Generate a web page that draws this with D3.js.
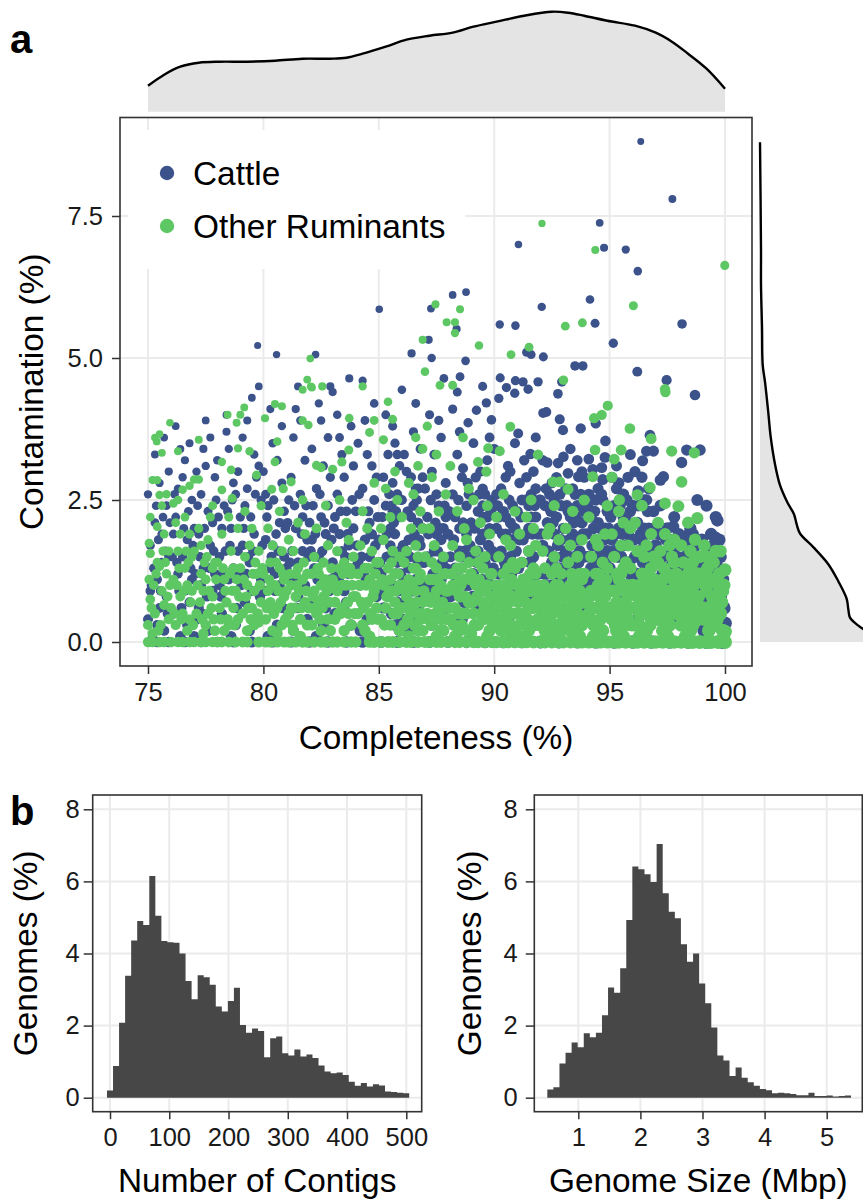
<!DOCTYPE html>
<html lang="en">
<head>
<meta charset="UTF-8">
<title>Genome quality of ruminant MAGs</title>
<script src="https://d3js.org/d3.v7.min.js"></script>
<style>
  body { margin: 0; background: #fff; }
  svg { display: block; font-family: "Liberation Sans", Arial, Helvetica, sans-serif; }
</style>
</head>
<body>
<svg id="chart" width="863" height="1200"></svg>
<script>
// ---- data ----
const seriesNames = ["Cattle", "Other Ruminants"];
const seriesColors = ["#3B528B", "#5DC863"];

// [completeness %, contamination %]
const cattle = [
  [75.0,2.6],[75.1,0.9],[75.0,0.4],[75.1,1.7],[75.3,2.1],[75.6,1.4],[75.5,0.6],[75.8,2.4],[75.4,1.1],[75.7,0.2],[75.9,3.0],[75.3,3.3],[75.6,1.9],[75.2,0.05],[75.8,0.8],[75.5,2.8],[75.9,1.5],[75.4,0.3],[75.7,3.6],
  [76.1,0.5],[76.3,1.2],[76.2,2.2],[76.5,2.9],[76.4,0.1],[76.7,1.8],[76.6,3.2],[76.8,0.7],[76.9,2.5],[76.2,3.8],[76.5,1.5],[76.7,0.3],[76.9,1.1],[76.3,2.7],[76.8,3.5],[76.1,1.9],[76.6,0.9],[76.4,3.4],
  [77.0,2.0],[77.2,0.6],[77.1,3.0],[77.4,1.3],[77.3,2.6],[77.6,0.2],[77.5,3.9],[77.7,1.7],[77.9,2.9],[77.8,0.9],[77.2,1.9],[77.4,3.4],[77.6,2.3],[77.1,0.4],[77.9,1.2],[77.5,3.1],[77.8,2.1],[77.3,1.0],[77.7,3.6],[77.0,0.1],
  [78.1,1.5],[78.0,3.2],[78.3,2.4],[78.2,0.5],[78.5,1.1],[78.4,3.7],[78.6,2.0],[78.8,0.3],[78.7,2.8],[78.9,1.6],[78.2,2.0],[78.5,3.4],[78.3,0.9],[78.8,2.6],[78.6,0.1],[78.4,4.0],[78.9,3.0],[78.1,1.0],[78.7,1.3],
  [79.0,2.2],[79.2,0.7],[79.1,3.6],[79.4,1.4],[79.3,2.7],[79.5,4.3],[79.7,0.4],[79.6,1.9],[79.8,3.1],[79.9,1.1],[79.2,2.4],[79.75,5.22],[79.8,4.5],[79.4,0.2],[79.6,3.3],[79.9,2.5],[79.1,1.7],[79.5,0.9],[79.7,2.9],[79.3,3.9],
  [80.1,1.8],[80.0,3.0],[80.3,0.6],[80.2,2.4],[80.5,1.2],[80.57,5.06],[80.4,3.5],[80.7,2.1],[80.6,0.3],[80.9,1.5],[80.8,2.8],[80.3,4.1],[80.5,0.9],[80.8,3.8],[80.1,2.6],[80.7,1.0],[80.2,0.1],[80.9,2.3],[80.4,1.7],[80.6,3.2],
  [81.0,1.3],[81.2,2.9],[81.1,0.5],[81.4,2.0],[81.3,3.6],[81.5,0.8],[81.5,4.5],[81.7,1.6],[81.6,2.6],[81.9,0.4],[81.8,3.2],[81.2,1.1],[81.4,4.1],[81.7,2.2],[81.9,1.8],[81.3,0.2],[81.6,3.9],[81.8,1.0],[81.1,2.5],[81.5,1.4],
  [82.0,2.1],[82.26,5.06],[82.9,4.5],[82.2,0.7],[82.1,3.4],[82.4,1.5],[82.3,2.7],[82.6,0.3],[82.5,3.9],[82.7,1.9],[82.8,2.4],[82.4,4.2],[82.9,1.1],[82.6,3.1],[82.2,1.3],[82.7,0.6],[82.5,2.2],[82.8,3.6],[82.1,1.8],[82.3,0.1],[82.9,2.9],
  [83.0,1.4],[83.2,2.6],[83.1,0.5],[83.4,3.3],[83.3,1.9],[83.72,4.64],[83.5,0.9],[83.6,2.3],[83.8,3.8],[83.7,1.2],[83.9,2.0],[83.2,4.0],[83.5,2.9],[83.8,0.3],[83.4,1.6],[83.9,3.1],[83.1,2.2],[83.6,0.7],[83.3,3.6],[83.7,1.7],[83.0,4.4],
  [84.0,2.3],[84.2,1.0],[84.1,3.5],[84.4,1.8],[84.3,2.7],[84.5,0.4],[84.7,3.1],[84.6,2.1],[84.8,4.2],[84.9,1.3],[84.2,0.2],[84.4,3.9],[84.6,1.5],[84.8,2.5],[84.5,3.3],[84.9,0.8],[84.7,1.9],[84.3,4.6],[84.1,1.4],[84.9,2.9],
  [85.02,5.86],[85.1,1.2],[85.3,2.4],[85.2,0.6],[85.4,3.3],[85.5,1.7],[85.6,2.8],[85.7,0.3],[85.6,3.8],[85.8,1.4],[85.9,2.2],[85.7,1.9],[85.8,2.6],[85.9,3.1],[85.6,1.0],[85.8,0.7],[85.5,2.0],[85.9,0.2],[85.7,3.5],[85.4,1.0],[85.3,4.0],[85.9,1.6],[85.6,2.3],[85.8,3.3],[85.2,2.9],[85.0,1.8],
  [86.0,2.5],[86.1,1.1],[86.2,3.0],[86.0,0.4],[86.3,1.8],[86.4,2.2],[86.42,5.08],[86.0,4.44],[86.5,0.9],[86.6,2.7],[86.7,1.4],[86.8,3.4],[86.9,2.0],[86.3,0.2],[86.5,3.7],[86.7,0.6],[86.9,1.0],[86.2,1.6],[86.4,2.9],[86.6,4.2],[86.8,1.7],[86.1,3.3],[86.5,2.4],[86.9,2.9],[86.3,1.3],[86.7,2.1],
  [87.16,5.32],[87.26,5.87],[87.29,5.0],[87.1,2.2],[87.2,1.0],[87.3,3.0],[87.4,1.6],[87.5,2.6],[87.6,0.5],[87.7,3.6],[87.8,2.0],[87.82,4.64],[87.9,1.3],[87.2,4.0],[87.5,1.9],[87.7,1.1],[87.9,2.8],[87.3,0.3],[87.6,2.4],[87.8,0.8],[87.4,3.3],[87.1,1.5],[87.9,2.2],[87.6,3.9],[87.0,2.7],
  [88.2,6.11],[88.78,6.16],[88.37,5.51],[88.76,4.95],[88.52,4.67],[88.0,1.9],[88.1,0.8],[88.2,2.6],[88.3,1.3],[88.4,3.3],[88.5,2.0],[88.6,0.4],[88.65,3.06],[88.7,1.6],[88.8,2.4],[88.87,3.86],[88.9,1.0],[88.2,4.1],[88.4,1.1],[88.6,2.9],[88.8,1.9],[88.3,2.2],[88.5,3.7],[88.9,2.6],[88.1,1.5],[88.7,0.7],[88.4,4.4],
  [89.0,2.1],[89.1,1.2],[89.23,4.08],[89.2,2.9],[89.3,0.6],[89.4,1.8],[89.5,4.5],[89.5,2.4],[89.66,4.21],[89.6,1.4],[89.7,3.2],[89.88,3.91],[89.8,2.0],[89.9,0.9],[89.1,3.5],[89.3,1.6],[89.5,2.7],[89.7,1.1],[89.9,2.5],[89.2,0.3],[89.4,3.0],[89.6,1.9],[89.8,3.6],[89.0,1.5],[89.3,2.3],[89.9,1.6],[89.7,2.2],
  [90.2,4.29],[90.24,5.59],[90.26,4.65],[90.53,4.48],[90.89,4.38],[90.92,5.57],[90.92,4.6],[90.1,2.0],[90.2,1.2],[90.3,2.7],[90.4,0.7],[90.5,1.9],[90.6,3.1],[90.7,1.5],[90.8,2.4],[90.9,1.0],[90.0,3.4],[90.3,1.6],[90.5,2.9],[90.7,2.1],[90.9,3.5],[90.4,2.3],[90.6,0.4],[90.8,1.8],[90.1,2.6],[90.5,1.3],[90.7,3.0],[90.2,2.2],[90.9,2.0],
  [91.05,7.0],[91.25,4.58],[91.47,4.45],[91.9,4.58],[91.4,5.1],[91.6,5.06],[91.04,3.67],[91.57,3.31],[91.1,1.8],[91.2,2.5],[91.3,1.1],[91.4,2.9],[91.5,1.6],[91.6,2.2],[91.7,0.8],[91.8,2.7],[91.9,1.9],[91.0,2.3],[91.2,1.4],[91.3,3.2],[91.5,2.0],[91.7,1.5],[91.8,3.6],[91.9,1.2],[91.1,2.8],[91.4,1.9],[91.6,2.6],[91.8,2.2],[91.3,0.5],[91.7,3.0],
  [92.06,5.9],[92.13,5.02],[92.26,4.05],[92.12,4.03],[92.76,4.37],[92.84,3.92],[92.98,3.73],[92.3,3.16],[92.77,3.15],[92.1,1.7],[92.2,2.4],[92.3,1.2],[92.4,2.0],[92.5,2.8],[92.6,1.5],[92.7,2.2],[92.8,0.9],[92.9,1.8],[92.0,2.5],[92.2,1.0],[92.4,2.6],[92.5,1.4],[92.7,2.9],[92.9,2.4],[92.1,3.2],[92.3,2.1],[92.6,1.9],[92.8,1.3],[92.4,0.6],[92.6,2.5],[92.9,1.1],
  [93.5,4.86],[93.84,4.86],[92.93,4.58],[93.75,3.76],[93.0,3.26],[93.6,3.2],[93.2,2.97],[93.65,2.91],[93.1,1.6],[93.2,2.3],[93.3,1.0],[93.4,2.7],[93.5,1.8],[93.6,2.4],[93.7,1.2],[93.8,2.1],[93.9,2.9],[93.0,2.0],[93.2,1.4],[93.4,1.9],[93.5,2.6],[93.7,1.6],[93.8,0.8],[93.9,2.3],[93.1,2.7],[93.3,2.2],[93.6,1.1],[93.9,1.5],[93.3,3.4],[93.8,3.0],
  [94.57,7.38],[94.76,6.94],[94.15,6.03],[94.37,5.61],[94.4,3.85],[94.82,3.54],[94.1,3.22],[94.8,3.25],[94.27,3.04],[94.66,3.07],[94.7,2.86],[94.1,1.5],[94.2,2.2],[94.3,1.1],[94.4,2.5],[94.5,1.7],[94.6,2.0],[94.7,0.9],[94.8,1.4],[94.9,2.3],[94.0,1.9],[94.2,1.3],[94.4,1.8],[94.5,2.7],[94.6,1.2],[94.8,2.0],[94.9,1.6],[94.1,2.6],[94.3,2.0],[94.7,2.5],[94.0,0.6],
  [95.7,6.91],[95.16,5.26],[95.3,2.7],[95.1,1.8],[95.2,2.4],[95.3,1.2],[95.4,2.0],[95.5,1.5],[95.6,2.6],[95.7,1.0],[95.8,1.9],[95.9,2.3],[95.0,1.3],[95.2,1.6],[95.4,2.8],[95.5,0.7],[95.6,1.7],[95.8,2.9],[95.9,1.2],[95.1,2.9],[95.3,3.1],[95.7,2.2],[95.9,3.3],[95.45,0.3],[95.8,0.6],
  [96.35,8.81],[96.22,6.53],[96.2,4.76],[96.75,3.64],[96.6,3.36],[96.9,3.36],[96.43,3.19],[96.24,2.66],[96.1,1.5],[96.2,2.1],[96.3,1.0],[96.4,1.8],[96.5,2.5],[96.6,1.3],[96.7,2.0],[96.8,0.7],[96.9,1.6],[96.0,2.4],[96.2,0.4],[96.4,2.9],[96.5,1.1],[96.7,2.7],[96.8,1.9],[96.9,2.3],[96.1,3.0],[96.6,0.5],[96.3,1.6],
  [97.72,7.8],[97.47,4.61],[97.33,2.91],[97.2,2.85],[97.76,2.03],[97.1,1.4],[97.2,0.8],[97.3,1.9],[97.4,1.1],[97.5,1.6],[97.6,0.5],[97.7,1.3],[97.8,2.2],[97.9,0.9],[97.0,1.7],[97.2,2.4],[97.4,0.3],[97.5,2.0],[97.7,0.7],[97.9,1.5],[97.3,1.2],[97.6,1.8],[97.8,0.4],
  [98.14,5.6],[98.7,4.35],[98.34,3.38],[98.92,3.38],[98.12,3.16],[98.8,2.5],[98.4,1.88],[98.1,1.2],[98.2,0.6],[98.3,1.5],[98.4,0.9],[98.5,1.3],[98.6,0.4],[98.7,1.7],[98.8,1.0],[98.9,0.6],[98.0,1.9],[98.3,0.3],[98.5,2.0],[98.6,1.6],[98.9,1.3],[98.2,1.7],[98.7,0.7],
  [99.57,1.84],[99.67,2.14],[99.57,1.63],[99.35,1.44],[99.1,1.2],[99.2,0.7],[99.3,1.6],[99.4,0.4],[99.5,1.0],[99.6,0.6],[99.7,1.3],[99.8,0.8],[99.9,0.3],[99.0,1.8],[99.2,2.4],[99.4,1.9],[99.6,2.2],[99.8,1.5],[99.1,0.2],[100.0,0.33],[99.9,1.1],[99.3,0.9],
  [75.4,0],[75.9,0],[76.6,0],[77.3,0],[78.0,0],[78.7,0],[79.5,0],[80.4,0],[81.2,0],[82.0,0],[82.8,0],[83.6,0],[84.3,0],[85.1,0],[85.8,0],[86.5,0],[87.2,0],[88.0,0],[88.8,0],[89.6,0],[90.4,0],[91.2,0],[92.0,0],[92.8,0],[93.6,0],[94.4,0],[95.2,0],[96.0,0],[96.8,0],[97.6,0],[98.4,0],[99.2,0],[99.9,0]
];

// extra cattle points filling the dense band (estimated from the crowded region)
const cattleDense = [
  [75.25,1.3],[75.65,2.2],[75.85,0.5],[75.45,1.8],[76.25,1.4],[76.55,2.0],[76.85,1.3],[76.45,0.6],
  [77.25,1.5],[77.55,0.8],[77.85,1.6],[77.45,2.0],[78.25,1.2],[78.55,1.7],[78.85,0.6],[78.45,2.3],
  [79.25,1.2],[79.55,1.6],[79.85,0.8],[79.45,2.2],[80.25,1.3],[80.55,1.9],[80.85,0.6],[80.45,2.5],
  [81.25,1.6],[81.55,1.1],[81.85,2.4],[81.45,0.6],[82.25,1.9],[82.55,1.6],[82.85,0.9],[82.45,2.6],
  [83.25,1.1],[83.55,1.5],[83.85,2.5],[83.45,0.6],[84.25,1.5],[84.55,2.3],[84.85,1.7],[84.45,1.1],
  [85.05,1.4],[85.25,0.9],[85.35,1.5],[85.45,2.6],
  [75.15,1.0],[75.35,2.4],[75.55,0.9],[75.75,1.6],[75.95,2.1],[76.05,1.5],[76.15,2.6],[76.35,0.9],[76.75,2.3],[76.95,1.7],
  [77.05,1.2],[77.15,2.4],[77.35,0.5],[77.65,1.3],[77.95,2.5],[78.05,2.2],[78.15,0.8],[78.35,1.6],[78.65,2.5],[78.95,1.2],
  [79.05,1.0],[79.15,2.0],[79.35,1.5],[79.65,2.6],[79.95,1.7],[80.05,0.9],[80.15,2.2],[80.35,1.5],[80.65,1.6],[80.95,2.0],
  [81.05,2.1],[81.15,1.4],[81.35,2.4],[81.65,1.9],[81.95,1.5],[82.05,1.6],[82.15,2.4],[82.35,1.1],[82.65,2.1],[82.95,1.8],
  [83.05,2.0],[83.15,1.2],[83.35,2.3],[83.65,1.9],[83.95,1.3],[84.05,1.7],[84.15,2.6],[84.35,1.2],[84.65,1.9],[84.95,2.2],
  [85.15,2.2],[85.35,1.9],[85.55,2.4],[85.75,2.3],[85.95,1.2],
  [85.55,0.5],[85.6,1.5],[85.65,2.1],[85.75,1.2],[85.85,0.9],[85.95,2.5],
  [86.05,1.7],[86.15,0.7],[86.25,2.3],[86.35,1.5],[86.45,0.4],[86.55,1.9],
  [86.6,1.1],[86.65,2.5],[86.75,1.8],[86.85,0.8],[86.95,1.4],[86.7,2.7],
  [87.05,0.9],[87.15,1.9],[87.25,2.5],[87.35,1.2],[87.45,2.1],[87.5,0.7],
  [87.55,1.6],[87.65,2.0],[87.75,1.4],[87.85,2.4],[87.95,0.6],[87.7,1.8],
  [88.05,2.3],[88.15,1.2],[88.25,1.8],[88.35,0.9],[88.45,2.5],[88.5,1.6],
  [88.55,1.3],[88.65,2.1],[88.75,1.0],[88.85,2.8],[88.95,1.7],[88.6,1.5],
  [89.05,0.8],[89.15,2.0],[89.25,1.4],[89.35,2.6],[89.45,1.1],[89.5,1.9],
  [89.55,2.2],[89.65,0.9],[89.75,1.7],[89.85,2.3],[89.95,1.3],[89.6,2.6],
  [90.05,1.5],[90.15,2.4],[90.25,0.8],[90.35,1.9],[90.45,1.4],[90.5,2.2],
  [90.55,1.0],[90.65,2.5],[90.75,1.2],[90.85,2.0],[90.95,1.6],[90.6,1.8],
  [91.05,1.3],[91.15,2.2],[91.25,1.8],[91.35,2.5],[91.45,0.9],[91.5,2.4],
  [91.55,1.4],[91.65,1.9],[91.75,2.4],[91.85,1.0],[91.95,2.5],[91.6,1.1],
  [92.05,1.9],[92.15,1.2],[92.25,2.7],[92.35,1.6],[92.45,2.3],[92.5,1.0],
  [92.55,2.1],[92.65,1.2],[92.75,1.7],[92.85,2.6],[92.95,1.5],[92.6,0.9],
  [93.05,1.2],[93.15,2.4],[93.25,1.8],[93.35,1.3],[93.45,2.1],[93.5,1.5],
  [93.55,2.2],[93.65,1.4],[93.75,2.6],[93.85,1.9],[93.95,1.0],[93.6,1.8],
  [94.05,2.4],[94.15,1.1],[94.25,1.7],[94.35,2.3],[94.45,1.4],[94.5,2.1],
  [94.55,1.5],[94.65,2.6],[94.75,1.8],[94.85,1.1],[94.95,2.0],[94.6,1.6],
  [95.05,2.2],[95.15,1.1],[95.25,1.9],[95.35,1.5],[95.45,2.4],[95.5,1.0],
  [95.55,1.9],[95.65,1.3],[95.75,2.5],[95.85,1.4],[95.95,1.8],[95.6,2.2],
  [96.05,1.8],[96.15,1.2],[96.25,2.4],[96.35,1.9],[96.45,1.4],[96.5,2.0],
  [96.55,1.6],[96.65,2.3],[96.75,1.4],[96.85,1.1],[96.95,2.0],[96.6,2.5],
  [97.05,1.1],[97.15,1.9],[97.25,1.5],[97.35,0.9],[97.45,1.8],[97.5,1.3],
  [97.55,1.0],[97.65,1.5],[97.75,1.1],[97.85,1.7],[97.95,1.2],[97.6,0.8],
  [98.05,1.4],[98.15,0.9],[98.25,1.3],[98.35,1.8],[98.45,1.1],[98.5,0.7],
  [98.55,1.2],[98.65,1.4],[98.75,0.9],[98.85,1.5],[98.95,1.0],[98.6,1.9],
  [99.05,1.0],[99.15,1.4],[99.25,0.5],[99.35,1.2],[99.45,0.8],[99.5,1.7],
  [99.55,1.3],[99.65,0.9],[99.75,1.8],[99.85,1.1],[99.95,0.6],[99.6,1.5]
];

const otherRuminants = [
  [75.0,0.3],[75.1,0.75],[75.05,1.1],[75.1,1.56],[75.05,1.74],[75.1,2.2],[75.2,2.85],[75.4,2.85],[75.3,3.6],[75.5,3.66],[75.38,3.53],[75.6,3.33],[75.95,3.86],[75.5,2.59],[75.4,2.03],[75.5,1.33],[75.3,0.5],[75.6,0.9],[75.8,1.2],[75.7,1.9],[75.9,0.4],[75.6,2.4],[75.8,2.6],[75.9,1.6],[75.2,0.15],[75.7,0.65],[75.4,1.4],
  [76.3,3.36],[76.1,2.44],[76.3,2.5],[76.5,2.68],[76.8,2.75],[76.2,0.3],[76.4,0.8],[76.6,1.3],[76.8,1.9],[76.1,1.1],[76.3,1.6],[76.5,0.5],[76.7,0.2],[76.9,0.9],[76.2,2.1],[76.6,2.2],[76.9,1.5],[76.4,1.9],[76.7,1.0],[76.0,0.6],[76.8,0.4],
  [77.2,3.56],[77.0,2.86],[77.2,2.86],[77.8,2.4],[77.1,0.5],[77.3,1.2],[77.5,0.3],[77.6,1.8],[77.8,0.8],[77.9,1.4],[77.2,2.0],[77.4,0.9],[77.6,0.5],[77.7,2.2],[77.9,0.2],[77.0,1.6],[77.5,1.1],[77.3,1.7],[77.8,1.3],[77.4,0.15],
  [78.45,4.0],[78.84,3.86],[78.9,3.41],[78.2,3.17],[78.6,3.03],[78.2,2.68],[78.65,2.53],[78.1,0.6],[78.3,1.1],[78.5,0.3],[78.6,1.6],[78.8,0.9],[78.9,2.0],[78.2,1.9],[78.4,0.7],[78.7,1.3],[78.0,1.4],[78.5,2.2],[78.9,0.4],[78.3,0.2],[78.7,0.6],
  [79.0,4.0],[79.17,4.13],[79.4,3.36],[79.7,2.94],[79.1,0.5],[79.3,1.0],[79.4,1.7],[79.6,0.3],[79.7,1.2],[79.9,0.7],[79.2,2.3],[79.5,2.0],[79.8,1.6],[79.0,1.3],[79.3,0.2],[79.6,0.9],[79.9,2.4],[79.5,0.6],[79.8,0.35],[79.2,1.5],
  [80.5,4.19],[80.8,4.15],[80.07,3.94],[80.6,3.53],[80.5,3.17],[80.86,2.7],[80.36,2.69],[80.1,0.4],[80.2,0.9],[80.3,1.4],[80.4,0.2],[80.5,1.0],[80.6,0.6],[80.7,1.3],[80.8,0.3],[80.9,0.8],[80.2,2.0],[80.4,1.7],[80.7,2.3],[80.9,1.1],[80.0,1.2],[80.6,0.15],[80.3,0.7],[80.8,1.6],
  [81.7,4.44],[81.7,3.9],[81.95,3.82],[81.2,2.82],[81.9,4.62],[81.1,0.5],[81.2,1.0],[81.3,0.2],[81.4,0.8],[81.5,1.3],[81.6,0.4],[81.7,1.1],[81.8,0.7],[81.9,1.2],[81.0,0.9],[81.3,1.6],[81.5,2.1],[81.6,0.1],[81.8,1.9],[81.2,0.6],[81.4,1.2],[81.9,0.3],[81.7,2.5],[81.1,1.8],
  [82.03,4.99],[82.1,4.48],[82.06,4.5],[82.55,4.5],[82.3,3.11],[82.5,3.07],[82.1,0.3],[82.2,0.9],[82.3,0.5],[82.4,1.2],[82.5,0.2],[82.6,0.8],[82.7,1.1],[82.8,0.4],[82.9,1.0],[82.0,0.6],[82.2,1.5],[82.4,0.7],[82.6,1.4],[82.8,1.7],[82.9,0.2],[82.3,2.0],[82.7,2.4],[82.5,1.0],[82.1,1.2],
  [83.0,3.04],[83.72,3.94],[83.7,3.38],[83.4,3.17],[83.1,0.4],[83.2,0.9],[83.3,1.3],[83.4,0.6],[83.5,0.2],[83.6,1.0],[83.7,0.5],[83.8,1.2],[83.9,0.8],[83.0,1.1],[83.2,1.6],[83.5,1.4],[83.6,2.1],[83.8,0.3],[83.9,1.5],[83.1,0.7],[83.3,2.5],[83.7,1.8],[83.4,1.0],
  [84.3,4.5],[84.6,3.69],[84.8,3.9],[84.1,0.5],[84.2,1.0],[84.3,0.3],[84.4,1.3],[84.5,0.7],[84.6,1.1],[84.7,0.4],[84.8,0.9],[84.9,1.4],[84.0,0.8],[84.2,1.7],[84.4,0.2],[84.5,2.0],[84.7,1.6],[84.9,0.6],[84.1,1.2],[84.3,2.3],[84.6,0.1],[84.8,2.8],[84.9,1.0],
  [85.4,4.23],[85.6,3.92],[85.2,3.56],[85.1,0.4],[85.2,1.0],[85.3,0.6],[85.4,1.3],[85.5,0.3],[85.6,0.9],[85.7,1.2],[85.8,0.5],[85.9,1.0],[85.0,1.4],[85.2,1.8],[85.4,0.8],[85.5,2.2],[85.6,1.6],[85.8,2.5],[85.9,0.2],[85.3,2.7],[85.7,3.0],[85.1,2.0],[85.5,1.1],[85.9,1.5],[85.7,0.7],
  [86.9,5.32],[86.1,0.3],[86.2,0.8],[86.3,1.1],[86.4,0.5],[86.5,1.3],[86.6,0.9],[86.7,0.2],[86.8,1.2],[86.9,0.7],[86.0,1.0],[86.2,1.6],[86.4,2.0],[86.5,2.6],[86.6,1.7],[86.7,3.1],[86.8,2.3],[86.9,3.4],[86.3,2.8],[86.1,1.4],[86.5,0.6],[86.8,0.4],[86.6,3.6],[86.9,2.0],[86.3,0.1],[86.7,1.5],[86.0,2.2],
  [87.46,5.95],[87.45,5.94],[87.0,4.76],[87.65,4.52],[87.94,5.63],[87.1,0.5],[87.2,1.1],[87.3,0.3],[87.4,0.8],[87.5,1.3],[87.6,0.6],[87.7,1.0],[87.8,0.2],[87.9,0.9],[87.0,1.5],[87.2,2.0],[87.3,2.9],[87.4,1.7],[87.5,3.3],[87.6,2.3],[87.8,1.5],[87.9,2.6],[87.1,3.8],[87.7,0.4],[87.3,1.4],[87.9,1.2],[87.5,0.1],
  [88.52,5.86],[88.3,5.63],[88.3,5.44],[88.2,4.52],[88.65,3.6],[88.1,0.4],[88.2,1.0],[88.3,0.6],[88.4,1.3],[88.5,0.2],[88.6,0.8],[88.7,1.1],[88.8,0.5],[88.9,1.4],[88.0,0.9],[88.2,1.7],[88.4,2.3],[88.5,1.5],[88.7,2.0],[88.9,2.7],[88.1,3.1],[88.6,0.3],[88.8,1.8],[88.3,0.1],[88.9,0.7],[88.5,1.1],
  [89.34,5.22],[89.3,3.17],[89.66,3.0],[89.74,3.41],[89.1,0.5],[89.2,1.0],[89.3,0.3],[89.4,0.9],[89.5,1.3],[89.6,0.6],[89.7,1.0],[89.8,0.2],[89.9,0.8],[89.0,1.2],[89.2,1.6],[89.4,2.1],[89.5,0.4],[89.6,1.5],[89.8,1.9],[89.9,1.2],[89.1,2.5],[89.3,1.4],[89.7,2.4],[89.5,0.7],[89.0,0.15],[89.9,0.45],
  [90.24,3.36],[90.7,3.79],[90.73,5.06],[90.1,0.4],[90.2,0.9],[90.3,0.2],[90.4,1.2],[90.5,0.6],[90.6,1.0],[90.7,0.3],[90.8,0.8],[90.9,1.3],[90.0,0.7],[90.2,1.5],[90.3,1.0],[90.5,1.8],[90.6,0.5],[90.8,1.4],[90.9,0.2],[90.1,2.2],[90.4,2.6],[90.7,1.7],[90.9,2.3],[90.3,0.6],[90.6,1.3],[90.8,0.1],
  [91.51,5.19],[91.9,3.3],[91.1,0.3],[91.2,0.8],[91.3,0.5],[91.4,1.1],[91.5,0.2],[91.6,0.9],[91.7,0.6],[91.8,1.2],[91.9,0.4],[91.0,1.0],[91.2,1.4],[91.3,0.1],[91.5,1.6],[91.6,0.3],[91.7,1.3],[91.8,0.7],[91.9,1.0],[91.1,1.9],[91.4,2.2],[91.6,2.5],[91.8,1.7],[91.3,0.9],[91.5,0.6],[91.0,0.5],[91.7,2.0],
  [92.07,7.37],[92.55,2.82],[92.84,2.82],[92.1,0.5],[92.2,0.2],[92.3,0.9],[92.4,0.4],[92.5,1.2],[92.6,0.7],[92.7,0.3],[92.8,1.0],[92.9,0.5],[92.0,0.8],[92.2,1.3],[92.3,0.6],[92.5,0.1],[92.6,1.5],[92.7,0.9],[92.8,1.8],[92.9,1.2],[92.1,1.6],[92.4,2.0],[92.6,2.4],[92.9,0.2],[92.3,1.9],[92.7,1.3],[92.0,0.3],[92.5,0.8],
  [93.08,5.56],[93.82,5.62],[93.0,4.61],[93.2,2.69],[93.1,0.4],[93.2,0.9],[93.3,0.2],[93.4,0.7],[93.5,1.1],[93.6,0.5],[93.7,0.9],[93.8,0.3],[93.9,1.2],[93.0,0.6],[93.2,1.4],[93.3,1.0],[93.5,0.3],[93.6,1.5],[93.7,0.1],[93.8,1.8],[93.9,0.7],[93.1,2.0],[93.4,2.3],[93.6,1.1],[93.8,1.1],[93.3,1.7],[93.9,2.5],[93.5,0.8],
  [94.38,6.9],[94.66,4.0],[94.33,3.94],[94.92,4.16],[94.37,3.38],[94.27,2.91],[94.1,0.5],[94.2,0.9],[94.3,0.3],[94.4,1.2],[94.5,0.6],[94.6,1.0],[94.7,0.2],[94.8,0.8],[94.9,1.3],[94.0,0.7],[94.2,1.5],[94.3,0.1],[94.5,1.7],[94.6,0.4],[94.8,1.9],[94.9,0.5],[94.1,2.2],[94.4,1.8],[94.7,1.4],[94.9,2.4],[94.5,1.0],[94.2,0.4],
  [95.5,3.38],[95.2,3.22],[95.1,2.9],[95.42,2.5],[95.88,3.76],[95.1,0.4],[95.2,0.9],[95.3,0.2],[95.4,1.1],[95.5,0.6],[95.6,1.0],[95.7,0.3],[95.8,0.8],[95.9,1.3],[95.0,0.6],[95.2,1.5],[95.3,0.7],[95.5,1.7],[95.6,0.1],[95.7,1.4],[95.8,0.4],[95.9,2.0],[95.1,1.9],[95.4,2.3],[95.6,2.1],[95.3,1.2],[95.8,1.7],
  [96.03,5.92],[96.8,3.58],[96.75,2.72],[96.2,2.59],[96.1,0.3],[96.2,0.8],[96.3,0.5],[96.4,1.2],[96.5,0.2],[96.6,0.9],[96.7,0.6],[96.8,1.3],[96.9,0.4],[96.0,1.0],[96.2,1.6],[96.3,0.1],[96.4,0.7],[96.5,1.5],[96.7,1.1],[96.8,1.9],[96.9,0.9],[96.1,2.1],[96.4,2.4],[96.6,1.7],[96.9,1.5],[96.3,1.0],
  [97.4,4.45],[97.42,4.4],[97.69,3.36],[97.4,2.44],[97.98,2.39],[97.1,2.1],[97.1,0.4],[97.2,1.0],[97.3,0.2],[97.4,0.7],[97.5,1.2],[97.6,0.3],[97.7,0.9],[97.8,1.4],[97.9,0.5],[97.0,0.8],[97.2,1.6],[97.3,1.1],[97.5,0.1],[97.6,1.7],[97.7,0.6],[97.9,1.2],[97.1,1.4],[97.4,1.9],[97.8,1.8],[97.5,0.5],
  [98.67,3.33],[98.12,2.82],[98.8,2.18],[98.4,2.1],[98.1,0.3],[98.2,0.9],[98.3,0.5],[98.4,1.2],[98.5,0.2],[98.6,0.8],[98.7,1.1],[98.8,0.4],[98.9,1.5],[98.0,0.7],[98.2,1.4],[98.3,0.1],[98.5,1.6],[98.6,0.3],[98.7,1.8],[98.9,0.6],[98.1,1.7],[98.4,0.6],[98.8,1.2],[98.5,1.0],
  [100,1.27],[100,0.18],[99.5,0.48],[99.99,6.63],[99.1,0.4],[99.2,0.9],[99.3,0.2],[99.4,1.1],[99.5,0.7],[99.6,0.3],[99.7,1.0],[99.8,0.5],[99.9,0.9],[99.0,1.2],[99.2,1.5],[99.3,0.6],[99.5,1.4],[99.6,1.1],[99.8,1.6],[99.9,0.2],[99.1,1.7],[99.4,0.3],[99.7,0.6],
  [75.0,0],[75.2,0],[75.5,0],[75.7,0],[76.0,0],[76.3,0],[76.5,0],[76.8,0],[77.0,0],[77.3,0],[77.5,0],[77.8,0],[78.0,0],[78.2,0],[78.5,0],[78.8,0],[79.1,0],[79.3,0],[79.8,0],[80.1,0],[80.3,0],[80.6,0],[80.9,0],[81.1,0],[81.4,0],[81.7,0],[81.9,0],[82.2,0],[82.5,0],[82.7,0],[83.0,0],[83.2,0],[83.5,0],[83.8,0],[84.0,0],[84.6,0],[84.8,0],[85.1,0],[85.4,0],[85.6,0],[85.9,0],[86.2,0],[86.4,0],[86.7,0],[87.0,0],[87.2,0],[87.5,0],[87.7,0],[88.0,0],[88.3,0],[88.5,0],[88.8,0],[89.1,0],[89.3,0],[89.6,0],[89.9,0],[90.1,0],[90.4,0],[90.6,0],[90.9,0],[91.2,0],[91.4,0],[91.7,0],[92.0,0],[92.2,0],[92.5,0],[92.8,0],[93.0,0],[93.3,0],[93.6,0],[93.8,0],[94.1,0],[94.4,0],[94.6,0],[94.9,0],[95.2,0],[95.4,0],[95.7,0],[96.0,0],[96.2,0],[96.5,0],[96.8,0],[97.0,0],[97.3,0],[97.6,0],[97.8,0],[98.1,0],[98.4,0],[98.6,0],[98.9,0],[99.2,0],[99.4,0],[99.7,0],[100.0,0]
];

// extra other-ruminant points filling the low-contamination band
const otherDense = [
  [75.25,1.0],[75.45,0.2],[75.65,1.6],[75.85,0.8],[76.25,1.0],[76.45,0.4],[76.65,1.6],[76.85,0.7],
  [77.25,0.7],[77.45,1.4],[77.65,0.9],[77.85,0.4],[78.25,1.3],[78.45,0.4],[78.65,0.9],[78.85,1.1],
  [79.25,0.8],[79.45,0.4],[79.65,1.4],[79.85,1.0],[80.25,1.1],[80.45,0.5],[80.65,0.9],[80.85,1.2],
  [81.25,0.3],[81.45,1.0],[81.65,0.6],[81.85,0.9],[82.25,0.6],[82.45,0.4],[82.65,1.1],[82.85,0.7],
  [83.25,0.5],[83.45,1.2],[83.65,0.7],[83.85,1.0],[84.25,0.7],[84.45,1.0],[84.65,0.5],[84.85,1.2],
  [85.25,0.3],[85.45,0.9],[85.65,0.5],[85.85,1.2],
  [75.15,0.6],[75.35,1.2],[75.55,0.3],[75.75,1.4],[75.95,1.0],[76.15,0.5],[76.35,1.3],[76.55,0.9],[76.75,1.4],[76.95,0.3],
  [77.15,1.0],[77.35,0.4],[77.55,1.5],[77.75,0.6],[77.95,1.1],[78.15,0.4],[78.35,0.9],[78.55,1.2],[78.75,0.3],[78.95,0.8],
  [79.15,1.1],[79.35,0.6],[79.55,1.2],[79.75,0.5],[79.95,1.3],[80.15,0.6],[80.35,1.0],[80.55,1.4],[80.75,0.7],[80.95,0.4],
  [81.15,1.2],[81.35,0.6],[81.55,0.9],[81.75,1.4],[81.95,0.6],[82.15,0.8],[82.35,1.3],[82.55,0.6],[82.75,0.9],[82.95,1.3],
  [83.15,1.0],[83.35,0.5],[83.55,1.0],[83.75,1.3],[83.95,0.5],[84.15,1.0],[84.35,0.6],[84.55,1.3],[84.75,0.8],[84.95,0.4],
  [85.15,1.1],[85.35,0.8],[85.55,1.4],[85.75,0.9],[85.95,0.6],
  [86.05,0.6],[86.15,0.9],[86.25,0.4],[86.35,0.7],[86.45,1.0],[86.55,0.3],
  [86.65,0.7],[86.75,1.1],[86.85,0.5],[86.95,0.9],[86.6,1.3],[86.9,0.2],
  [87.05,0.8],[87.15,0.4],[87.25,0.7],[87.35,1.1],[87.45,0.5],[87.5,0.9],
  [87.55,1.1],[87.65,0.5],[87.75,0.7],[87.85,1.2],[87.95,0.4],[87.7,0.2],
  [88.05,0.6],[88.15,1.2],[88.25,0.3],[88.35,0.9],[88.45,0.5],[88.5,0.8],
  [88.55,1.0],[88.65,0.5],[88.75,0.8],[88.85,0.2],[88.95,1.1],[88.6,1.3],
  [89.05,0.7],[89.15,0.3],[89.25,0.8],[89.35,1.1],[89.45,0.5],[89.5,1.0],
  [89.55,0.4],[89.65,0.9],[89.75,0.6],[89.85,1.2],[89.95,0.3],[89.7,0.1],
  [90.05,1.0],[90.15,0.6],[90.25,0.4],[90.35,0.8],[90.45,1.0],[90.5,0.3],
  [90.55,0.9],[90.65,0.7],[90.75,1.1],[90.85,0.5],[90.95,0.8],[90.6,0.2],
  [91.05,0.7],[91.15,0.5],[91.25,1.1],[91.35,0.7],[91.45,0.4],[91.5,0.9],
  [91.55,1.2],[91.65,0.6],[91.75,0.3],[91.85,0.9],[91.95,0.7],[91.7,1.0],
  [92.05,0.6],[92.15,1.0],[92.25,0.7],[92.35,0.3],[92.45,0.9],[92.5,0.5],
  [92.55,0.7],[92.65,1.0],[92.75,0.6],[92.85,0.3],[92.95,0.8],[92.6,0.2],
  [93.05,0.8],[93.15,0.3],[93.25,0.6],[93.35,1.2],[93.45,0.5],[93.5,0.9],
  [93.55,0.6],[93.65,0.8],[93.75,0.4],[93.85,0.7],[93.95,0.4],[93.7,1.2],
  [94.05,0.4],[94.15,0.8],[94.25,0.6],[94.35,0.9],[94.45,0.3],[94.5,1.2],
  [94.55,0.8],[94.65,0.7],[94.75,0.5],[94.85,1.1],[94.95,0.9],[94.6,0.1],
  [95.05,0.9],[95.15,0.6],[95.25,0.3],[95.35,0.9],[95.45,0.5],[95.5,1.2],
  [95.55,0.4],[95.65,0.7],[95.75,1.0],[95.85,0.6],[95.95,0.3],[95.6,1.3],
  [96.05,0.6],[96.15,0.9],[96.25,0.3],[96.35,0.7],[96.45,1.0],[96.5,0.5],
  [96.55,0.7],[96.65,1.2],[96.75,0.3],[96.85,0.7],[96.95,1.1],[96.6,0.2],
  [97.05,0.6],[97.15,0.8],[97.25,0.5],[97.35,1.3],[97.45,0.4],[97.5,0.8],
  [97.55,0.9],[97.65,0.5],[97.75,1.1],[97.85,0.7],[97.95,0.9],[97.7,1.5],
  [98.05,1.1],[98.15,0.5],[98.25,0.8],[98.35,1.0],[98.45,0.4],[98.5,1.3],
  [98.55,0.5],[98.65,1.0],[98.75,0.6],[98.85,0.8],[98.95,1.1],[98.6,1.4],
  [99.05,0.6],[99.15,1.0],[99.25,1.3],[99.35,0.4],[99.45,0.8],[99.5,1.1],
  [99.55,0.8],[99.65,0.4],[99.75,1.2],[99.85,0.7],[99.95,1.0],[99.6,1.6]
];

// marginal densities (relative height, peak = 1)
const topDensComp = [75,75.7,76.4,77.2,78.1,79.3,80.5,81.7,82.9,83.6,84.3,85.3,86.2,87.2,88.2,89.1,90.1,91.3,92.5,93.2,93.9,94.9,96.1,97.0,97.7,98.4,99.2,100];
const topDensValue = [0.26,0.37,0.45,0.49,0.50,0.50,0.51,0.53,0.53,0.54,0.58,0.65,0.72,0.76,0.79,0.85,0.90,0.96,1.00,0.99,0.96,0.91,0.86,0.79,0.70,0.58,0.43,0.23];
const rightDensCont = [8.8,6.89,6.28,5.55,4.88,4.58,4.04,3.61,3.13,2.76,2.46,2.25,2.07,1.91,1.67,1.37,1.07,0.76,0.58,0.43,0.31,0.23,0.12,0];
const rightDensValue = [0,0.01,0.01,0.02,0.027,0.05,0.083,0.107,0.15,0.2,0.273,0.34,0.367,0.4,0.533,0.683,0.783,0.867,0.883,0.9,0.967,1.03,1.09,1.13];

// histograms: % of genomes per bin (50 bins each)
const contigBinStart = -5.1, contigBinWidth = 10.2;
const contigPct = [0.2,0.88,2.08,3.38,4.36,4.9,4.79,6.15,5.05,4.35,4.31,4.3,4.0,3.24,2.73,3.40,3.34,3.13,2.53,2.39,2.68,3.05,2.02,1.8,1.92,1.85,1.12,1.65,1.7,1.23,1.17,1.34,1.14,1.2,1.1,0.89,0.73,0.68,0.7,0.63,0.44,0.33,0.41,0.31,0.37,0.34,0.17,0.16,0.14,0.12];
const sizeBinStart = 0.501, sizeBinWidth = 0.0978;
const sizePct = [0.23,0.29,0.95,1.25,1.53,1.40,1.79,1.68,1.80,2.29,3.06,2.91,3.59,4.93,6.41,6.34,6.2,5.98,7.04,5.67,5.16,4.98,4.26,3.77,4.0,3.17,2.62,1.95,1.17,1.03,0.6,0.84,0.55,0.43,0.33,0.24,0.21,0.12,0.14,0.12,0.1,0.07,0.07,0.14,0.05,0.05,0.06,0.03,0.05,0.06];

const compTicks = [75, 80, 85, 90, 95, 100];
const contTicks = [0, 2.5, 5, 7.5];
const pctTicks = [0, 2, 4, 6, 8];
const contigTicks = [0, 100, 200, 300, 400, 500];
const sizeTicks = [1, 2, 3, 4, 5];

// ---- drawing ----
const svg = d3.select("#chart");
const FONT = '"Liberation Sans", Arial, Helvetica, sans-serif';
const GRID = "#EBEBEB", FRAME = "#333333";

function styleAxis(g) {
  g.select(".domain").remove();
  g.attr("font-family", FONT).attr("font-size", 25.5);
  g.selectAll(".tick line").attr("stroke", FRAME).attr("stroke-width", 1.5);
  g.selectAll(".tick text").attr("fill", "#1a1a1a");
}

function gridLines(x, y, xt, yt, box) {
  const g = svg.append("g");
  g.selectAll(null).data(xt).enter().append("line")
    .attr("x1", d => x(d)).attr("x2", d => x(d)).attr("y1", box.y0).attr("y2", box.y1)
    .attr("stroke", GRID).attr("stroke-width", 2);
  g.selectAll(null).data(yt).enter().append("line")
    .attr("x1", box.x0).attr("x2", box.x1).attr("y1", d => y(d)).attr("y2", d => y(d))
    .attr("stroke", GRID).attr("stroke-width", 2);
}

function frame(box) {
  svg.append("rect").attr("x", box.x0).attr("y", box.y0)
    .attr("width", box.x1 - box.x0).attr("height", box.y1 - box.y0)
    .attr("fill", "none").attr("stroke", FRAME).attr("stroke-width", 1.6);
}

function label(text, x, y, opts = {}) {
  const t = svg.append("text").attr("x", x).attr("y", y).text(text)
    .attr("font-family", FONT).attr("font-size", opts.size || 33.4)
    .attr("fill", "#000").attr("text-anchor", opts.anchor || "middle");
  if (opts.bold) t.attr("font-weight", "bold");
  if (opts.rotate) t.attr("transform", `rotate(-90,${x},${y})`);
  return t;
}

// ===== panel a =====
const boxA = { x0: 120, x1: 752, y0: 117.5, y1: 666 };
const xA = d3.scaleLinear().domain([75, 100]).range([148, 725]);
const yA = d3.scaleLinear().domain([0, 7.5]).range([642, 216]);

// top marginal density
const topD = d3.scaleLinear().domain([0, 1]).range([111.7, 11.7]);
const topData = topDensComp.map((c, i) => ({ c, v: topDensValue[i] }));
svg.append("path").datum(topData)
  .attr("d", d3.area().x(d => xA(d.c)).y0(topD(0)).y1(d => topD(d.v)).curve(d3.curveCatmullRom))
  .attr("fill", "#E4E4E4");
svg.append("path").datum(topData)
  .attr("d", d3.line().x(d => xA(d.c)).y(d => topD(d.v)).curve(d3.curveCatmullRom))
  .attr("fill", "none").attr("stroke", "#000").attr("stroke-width", 2.4);

// right marginal density
const rightD = d3.scaleLinear().domain([0, 1]).range([760, 860]);
const rightData = rightDensCont.map((c, i) => ({ c, v: rightDensValue[i] }));
svg.append("path").datum(rightData)
  .attr("d", d3.area().y(d => yA(d.c)).x0(rightD(0)).x1(d => rightD(d.v)).curve(d3.curveCatmullRom))
  .attr("fill", "#E4E4E4");
svg.append("path").datum(rightData)
  .attr("d", d3.line().y(d => yA(d.c)).x(d => rightD(d.v)).curve(d3.curveCatmullRom))
  .attr("fill", "none").attr("stroke", "#000").attr("stroke-width", 2.4);

gridLines(xA, yA, compTicks, contTicks, boxA);

// point size follows quality score (completeness - 5 x contamination)
const rA = d3.scaleLinear().domain([50, 100]).range([3.3, 7.0]).clamp(true);
svg.append("clipPath").attr("id", "clipA").append("rect")
  .attr("x", boxA.x0).attr("y", boxA.y0).attr("width", boxA.x1 - boxA.x0).attr("height", boxA.y1 - boxA.y0);
const pts = svg.append("g").attr("clip-path", "url(#clipA)");
[cattle.concat(cattleDense), otherRuminants.concat(otherDense)].forEach((series, si) => {
  pts.append("g").selectAll("circle").data(series).enter().append("circle")
    .attr("cx", d => xA(d[0])).attr("cy", d => yA(d[1]))
    .attr("r", d => rA(d[0] - 5 * d[1]))
    .attr("fill", seriesColors[si]);
});

// legend
svg.append("rect").attr("x", 128).attr("y", 130).attr("width", 337).attr("height", 139).attr("fill", "#fff");
const leg = svg.append("g").selectAll("g").data(seriesNames).enter().append("g")
  .attr("transform", (d, i) => `translate(167,${173 + i * 53})`);
leg.append("circle").attr("r", 7.2).attr("fill", (d, i) => seriesColors[i]);
leg.append("text").attr("x", 26).attr("y", 11.5).text(d => d)
  .attr("font-family", FONT).attr("font-size", 33.4).attr("fill", "#000");

frame(boxA);
svg.append("g").attr("transform", `translate(${boxA.x0},0)`)
  .call(d3.axisLeft(yA).tickValues(contTicks).tickSize(8).tickPadding(9).tickFormat(d3.format(".1f")))
  .call(styleAxis);
svg.append("g").attr("transform", `translate(0,${boxA.y1})`)
  .call(d3.axisBottom(xA).tickValues(compTicks).tickSize(8).tickPadding(9))
  .call(styleAxis);
label("Completeness (%)", (boxA.x0 + boxA.x1) / 2, 749);
label("Contamination (%)", 43, (boxA.y0 + boxA.y1) / 2, { rotate: true });
label("a", 10, 53, { size: 40, bold: true, anchor: "start" });

// ===== panel b: histograms =====
function histogram(box, x, xt, pct, start, width, xTitle, yTickPad, yTickSize) {
  const y = d3.scaleLinear().domain([0, 8]).range([1097.7, 809.3]);
  gridLines(x, y, xt, pctTicks, box);
  // bins drawn as one stepped outline so neighbouring bars join without seams
  const steps = pct.map((v, i) => ({ e: start + i * width, v }));
  steps.push({ e: start + pct.length * width, v: pct[pct.length - 1] });
  svg.append("path").datum(steps)
    .attr("d", d3.area().x(d => x(d.e)).y0(y(0)).y1(d => y(d.v)).curve(d3.curveStepAfter))
    .attr("fill", "#474747");
  frame(box);
  svg.append("g").attr("transform", `translate(${box.x0},0)`)
    .call(d3.axisLeft(y).tickValues(pctTicks).tickSize(yTickSize).tickPadding(yTickPad).tickFormat(d3.format("d")))
    .call(styleAxis);
  svg.append("g").attr("transform", `translate(0,${box.y1})`)
    .call(d3.axisBottom(x).tickValues(xt).tickSize(7.5).tickPadding(9).tickFormat(d3.format("d")))
    .call(styleAxis);
  label(xTitle, (box.x0 + box.x1) / 2, 1192);
}

const boxB1 = { x0: 92.7, x1: 421.7, y0: 795, y1: 1111.7 };
const xB1 = d3.scaleLinear().domain([0, 500]).range([110, 406.3]);
histogram(boxB1, xB1, contigTicks, contigPct, contigBinStart, contigBinWidth, "Number of Contigs", 4, 9);
label("Genomes (%)", 37, (boxB1.y0 + boxB1.y1) / 2, { rotate: true });

const boxB2 = { x0: 534.3, x1: 862.3, y0: 795, y1: 1111.7 };
const xB2 = d3.scaleLinear().domain([1, 5]).range([578.3, 826.7]);
histogram(boxB2, xB2, sizeTicks, sizePct, sizeBinStart, sizeBinWidth, "Genome Size (Mbp)", 8, 8.5);
label("Genomes (%)", 481, (boxB2.y0 + boxB2.y1) / 2, { rotate: true });

label("b", 10, 825, { size: 40, bold: true, anchor: "start" });
</script>
</body>
</html>
